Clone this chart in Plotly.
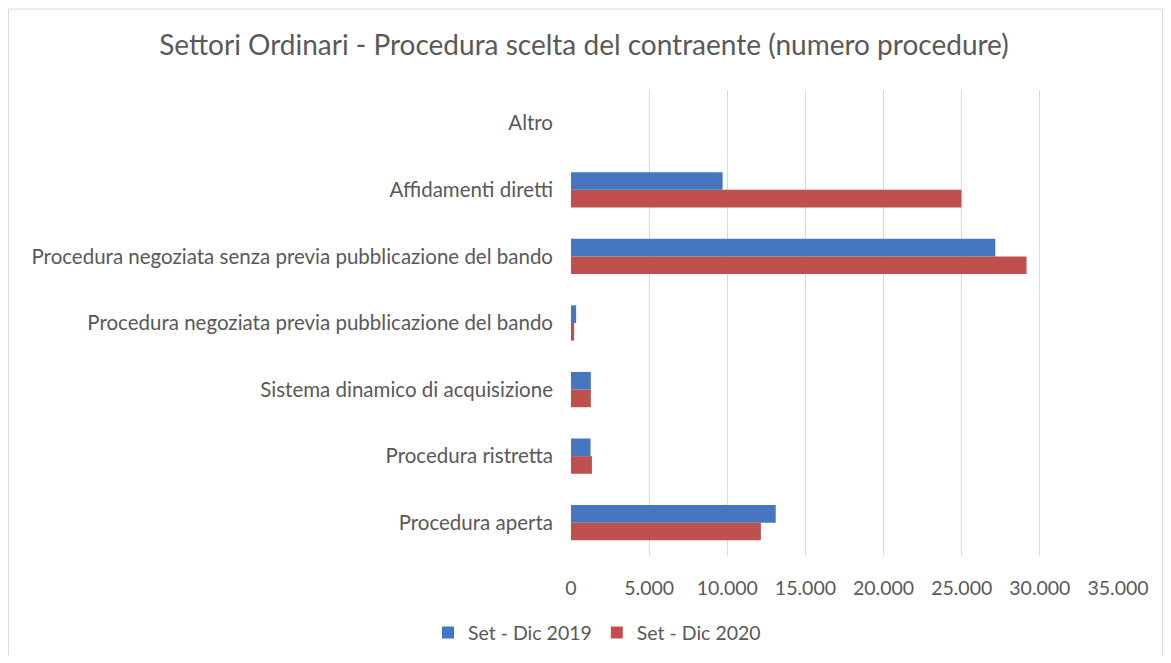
import plotly.graph_objects as go

categories = [
    "Procedura aperta",
    "Procedura ristretta",
    "Sistema dinamico di acquisizione",
    "Procedura negoziata previa pubblicazione del bando",
    "Procedura negoziata senza previa pubblicazione del bando",
    "Affidamenti diretti",
    "Altro",
]
series_names = ["Set - Dic 2019", "Set - Dic 2020"]
values_2019 = [13100, 1250, 1270, 330, 27150, 9700, 0]
values_2020 = [12150, 1340, 1270, 200, 29150, 24980, 0]
tick_values = [0, 5000, 10000, 15000, 20000, 25000, 30000, 35000]
tick_labels = ["0", "5.000", "10.000", "15.000", "20.000", "25.000", "30.000", "35.000"]

# page has an 8px body margin; figure coordinates below are relative to the figure
W, H = 1155, 647
L, R, T, B = 563, 1110, 81.5, 548

fig = go.Figure()
fig.add_trace(go.Bar(y=categories, x=values_2020, name=series_names[1], orientation="h",
                     marker=dict(color="#C0504D", line=dict(width=0))))
fig.add_trace(go.Bar(y=categories, x=values_2019, name=series_names[0], orientation="h",
                     marker=dict(color="#4676C0", line=dict(width=0))))

font_family = "Lato, 'Open Sans', sans-serif"
pw, ph = R - L, B - T

def px(xp):
    return (xp - L) / pw

def py(yp):
    return (B - yp) / ph

border_path = "M {x0},{y0} L {x0},{y1} L {x1},{y1} L {x1},{y0}".format(
    x0=px(0.5), x1=px(W - 0.5), y0=py(H + 5), y1=py(0.5))

fig.update_layout(
    width=W, height=H,
    margin=dict(l=L, r=W - R, t=T, b=H - B, autoexpand=False),
    paper_bgcolor="white", plot_bgcolor="white",
    barmode="group", bargap=0.47, bargroupgap=0,
    font=dict(family=font_family, color="#595959", size=19),
    title=dict(text="Settori Ordinari - Procedura scelta del contraente (numero procedure)",
               x=576 / W, xref="container", xanchor="center",
               y=1 - 37 / H, yref="container", yanchor="middle",
               font=dict(size=28, color="#595959", family=font_family)),
    xaxis=dict(range=[0, 35000], tickvals=tick_values, ticktext=tick_labels,
               showgrid=True, gridcolor="#D9D9D9", gridwidth=1, zeroline=False,
               showline=False, ticks="", tickfont=dict(size=19.5, color="#595959"),
               ticklabelstandoff=18, fixedrange=True),
    yaxis=dict(showgrid=False, zeroline=False, showline=False, ticks="",
               tickfont=dict(size=20.5, color="#595959"), ticklabelstandoff=17,
               categoryorder="array", categoryarray=categories),
    legend=dict(orientation="h", traceorder="reversed", x=px(589), xanchor="center",
                y=py(625), yanchor="middle", font=dict(size=19.5, color="#595959"),
                itemwidth=30),
    showlegend=True,
    shapes=[
        dict(type="path", xref="paper", yref="paper", path=border_path,
             line=dict(color="#D9D9D9", width=1), layer="below"),
    ],
)

fig.write_html("out.html")
